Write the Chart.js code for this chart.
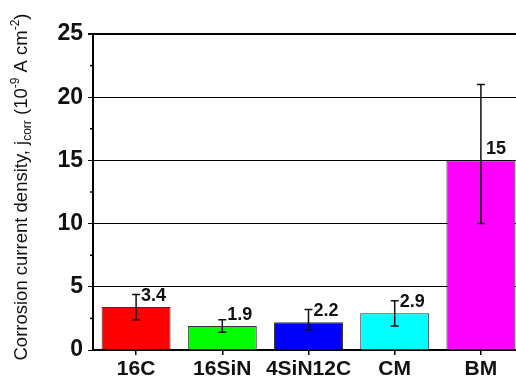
<!DOCTYPE html>
<html>
<head>
<meta charset="utf-8">
<script src="https://cdn.jsdelivr.net/npm/chart.js@4/dist/chart.umd.min.js"></script>
<style>
  html, body { margin: 0; padding: 0; background: #fff; overflow: hidden; width: 516px; height: 379px; }
  #wrap { position: relative; width: 530px; height: 379px; }
</style>
</head>
<body>
<div id="wrap"><canvas id="c"></canvas></div>
<script>
// Corrosion current density per sample (10^-9 A cm^-2)
const categories = ['16C', '16SiN', '4SiN12C', 'CM', 'BM'];
const jcorr = [3.4, 1.9, 2.2, 2.9, 15];
const errUpper = [1.0, 0.5, 1.0, 1.0, 6.0];
const errLower = [1.0, 0.5, 0.6, 1.0, 5.0];
const barColors = ['#ff0000', '#00ff00', '#0000ff', '#00ffff', '#ff00ff'];
const yMinorTicks = [2.5, 7.5, 12.5, 17.5, 22.5];

const FONT = "'Liberation Sans', Arial, Helvetica, sans-serif";

// Error bars, value labels and minor ticks on the value axis
const decorations = {
  id: 'decorations',
  afterDatasetsDraw(chart) {
    const ctx = chart.ctx;
    const y = chart.scales.y;
    const meta = chart.getDatasetMeta(0);
    ctx.save();
    ctx.strokeStyle = '#111';
    ctx.lineWidth = 1.5;
    meta.data.forEach((bar, i) => {
      const x = bar.x;
      const yTop = y.getPixelForValue(jcorr[i] + errUpper[i]);
      const yBot = y.getPixelForValue(jcorr[i] - errLower[i]);
      ctx.beginPath();
      ctx.moveTo(x, yTop); ctx.lineTo(x, yBot);
      ctx.moveTo(x - 4, yTop); ctx.lineTo(x + 4, yTop);
      ctx.moveTo(x - 4, yBot); ctx.lineTo(x + 4, yBot);
      ctx.stroke();
    });
    ctx.fillStyle = '#111';
    ctx.font = 'bold 18px ' + FONT;
    ctx.textAlign = 'left';
    ctx.textBaseline = 'middle';
    meta.data.forEach((bar, i) => {
      ctx.fillText(String(jcorr[i]), bar.x + 5, y.getPixelForValue(jcorr[i]) - 11);
    });
    ctx.restore();
  },
  afterDraw(chart) {
    const ctx = chart.ctx;
    const y = chart.scales.y;
    const left = chart.chartArea.left;
    ctx.save();
    ctx.strokeStyle = '#000';
    ctx.lineWidth = 1.5;
    yMinorTicks.forEach(v => {
      const py = y.getPixelForValue(v);
      ctx.beginPath();
      ctx.moveTo(left - 3, py); ctx.lineTo(left, py);
      ctx.stroke();
    });

    // Y axis title with subscript and superscripts
    const base = 18.5;
    const parts = [
      { t: 'Corrosion current density, j', k: 'n' },
      { t: 'corr', k: 'sub' },
      { t: ' (10', k: 'n' },
      { t: '-9', k: 'sup' },
      { t: ' A cm', k: 'n' },
      { t: '-2', k: 'sup' },
      { t: ')', k: 'n' }
    ];
    const fontFor = k => (k === 'n' ? base : Math.round(base * 0.65)) + 'px ' + FONT;
    let total = 0;
    parts.forEach(p => { ctx.font = fontFor(p.k); p.w = ctx.measureText(p.t).width; total += p.w; });
    const cy = (chart.chartArea.top + chart.chartArea.bottom) / 2 - 5;
    ctx.translate(22, cy);
    ctx.rotate(-Math.PI / 2);
    ctx.fillStyle = '#111';
    ctx.textAlign = 'left';
    ctx.textBaseline = 'middle';
    let x = -total / 2;
    parts.forEach(p => {
      ctx.font = fontFor(p.k);
      const dy = p.k === 'sub' ? base * 0.3 : p.k === 'sup' ? -base * 0.35 : 0;
      ctx.fillText(p.t, x, dy);
      x += p.w;
    });
    ctx.restore();
  }
};

new Chart(document.getElementById('c'), {
  type: 'bar',
  data: {
    labels: categories,
    datasets: [{
      data: jcorr,
      backgroundColor: barColors,
      borderColor: '#333',
      borderWidth: 1,
      barPercentage: 0.8,
      categoryPercentage: 1.0
    }]
  },
  options: {
    responsive: true,
    maintainAspectRatio: false,
    animation: false,
    devicePixelRatio: 1,
    layout: { padding: { left: 0, right: 6, top: 34, bottom: 0 } },
    plugins: { legend: { display: false }, tooltip: { enabled: false } },
    scales: {
      x: {
        offset: true,
        grid: { offset: false, drawOnChartArea: false, drawTicks: true, tickLength: 5, color: '#000', lineWidth: 1.5 },
        border: { display: true, color: '#000', width: 2 },
        ticks: { color: '#111', font: { family: FONT, size: 21, weight: 'bold' }, padding: 2, autoSkip: false, maxRotation: 0 },
        afterFit: s => { s.height = 29; }
      },
      y: {
        min: 0,
        max: 25,
        ticks: { stepSize: 5, color: '#111', font: { family: FONT, size: 23, weight: 'bold' }, padding: 5 },
        grid: { color: '#000', lineWidth: c => (c.tick && c.tick.value === 25 ? 2 : 1), tickLength: 5 },
        border: { display: true, color: '#000', width: 2 },
        afterFit: s => { s.width = 93; }
      }
    }
  },
  plugins: [decorations]
});
</script>
</body>
</html>
